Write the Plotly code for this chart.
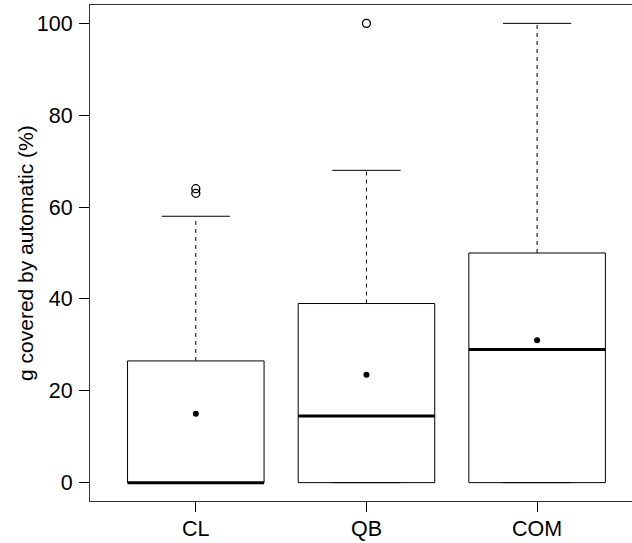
import plotly.graph_objects as go

# Summary statistics per group (percent of g covered by automatic)
categories = ["CL", "QB", "COM"]
q1 = [0, 0, 0]
medians = [0, 14.5, 29]
q3 = [26.5, 39, 50]
whisker_low = [0, 0, 0]
whisker_high = [58, 68, 100]
means = [15, 23.5, 31]
outliers = {"CL": [63, 64], "QB": [100], "COM": []}

y_ticks = [0, 20, 40, 60, 80, 100]

BOX_W = 0.8
CAP_W = 0.4
FONT = "Liberation Sans, Arial, Helvetica, sans-serif"

fig = go.Figure()
pos = list(range(1, len(categories) + 1))

for i, cat in enumerate(categories):
    x = pos[i]
    l, r = x - BOX_W / 2, x + BOX_W / 2
    # whiskers (dashed)
    fig.add_trace(go.Scatter(x=[x, x], y=[q3[i], whisker_high[i]], mode="lines",
                             line=dict(color="black", width=1, dash="4px,4px"),
                             hoverinfo="skip", showlegend=False))
    fig.add_trace(go.Scatter(x=[x, x], y=[whisker_low[i], q1[i]], mode="lines",
                             line=dict(color="black", width=1, dash="4px,4px"),
                             hoverinfo="skip", showlegend=False))
    # whisker caps
    for v in (whisker_low[i], whisker_high[i]):
        fig.add_trace(go.Scatter(x=[x - CAP_W / 2, x + CAP_W / 2], y=[v, v], mode="lines",
                                 line=dict(color="black", width=1),
                                 hoverinfo="skip", showlegend=False))
    # box
    fig.add_trace(go.Scatter(x=[l, r, r, l, l], y=[q1[i], q1[i], q3[i], q3[i], q1[i]],
                             mode="lines", line=dict(color="black", width=1),
                             hoverinfo="skip", showlegend=False))
    # median
    fig.add_trace(go.Scatter(x=[l, r], y=[medians[i], medians[i]], mode="lines",
                             line=dict(color="black", width=3),
                             hoverinfo="skip", showlegend=False))

# means
fig.add_trace(go.Scatter(x=pos, y=means, mode="markers",
                         marker=dict(color="black", size=6),
                         hoverinfo="skip", showlegend=False))

# outliers
ox, oy = [], []
for i, cat in enumerate(categories):
    for v in outliers[cat]:
        ox.append(pos[i])
        oy.append(v)
fig.add_trace(go.Scatter(x=ox, y=oy, mode="markers",
                         marker=dict(symbol="circle-open", color="black", size=8,
                                     line=dict(width=1.3)),
                         hoverinfo="skip", showlegend=False))

fig.add_annotation(text="g covered by automatic (%)", xref="paper", yref="paper",
                   x=-0.12, y=0.5, xanchor="center", yanchor="middle",
                   textangle=-90, showarrow=False,
                   font=dict(family=FONT, size=21, color="black"))

fig.update_layout(
    width=632, height=543,
    margin=dict(l=90, r=0, t=5, b=42),
    paper_bgcolor="white", plot_bgcolor="white",
    font=dict(family=FONT, size=21.5, color="black"),
    xaxis=dict(range=[0.38, 3.556], tickvals=pos, ticktext=categories,
               showgrid=False, zeroline=False, showline=True, mirror=True,
               linecolor="#333", linewidth=1, ticks="outside", ticklen=10,
               tickcolor="black", ticklabelstandoff=-2, fixedrange=True),
    yaxis=dict(range=[-4, 104], tickvals=y_ticks, showgrid=False, zeroline=False,
               showline=True, linecolor="#333", linewidth=1, ticks="outside",
               ticklen=10, tickcolor="black", ticklabelstandoff=2, fixedrange=True),
)

fig.write_html("out.html")
